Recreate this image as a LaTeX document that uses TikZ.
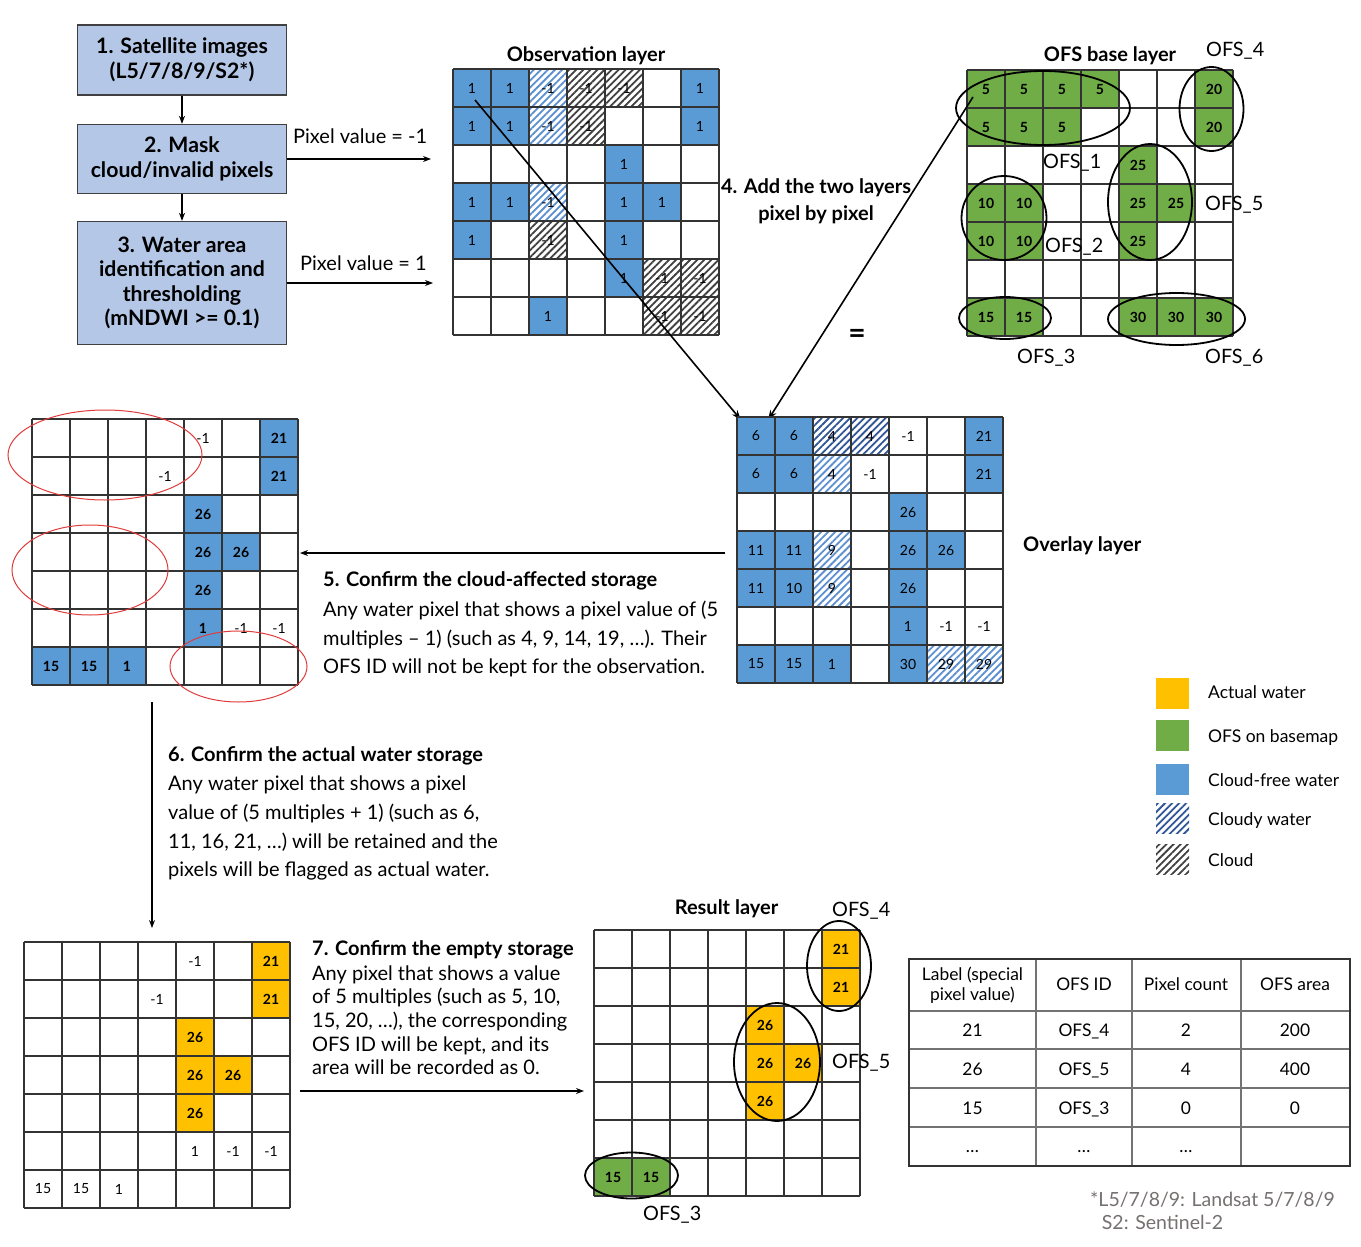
\documentclass[tikz,border=0pt]{standalone}
\usepackage{fontspec}
\setmainfont{Lato}
\usetikzlibrary{arrows.meta,patterns.meta}
\definecolor{cblue}{HTML}{5B9BD5}
\definecolor{cgreen}{HTML}{70AD47}
\definecolor{corange}{HTML}{FFC000}
\definecolor{boxblue}{HTML}{B4C7E7}
\definecolor{hblue}{HTML}{5B8FD0}
\definecolor{hdblue}{HTML}{2F5597}
\definecolor{hgray}{HTML}{404040}
\definecolor{fgray}{HTML}{767171}
\definecolor{ered}{HTML}{E03C3C}
\tikzset{
  gl/.style={draw=black!80, line width=1.2pt},
  bluec/.style={fill=cblue},
  greenc/.style={fill=cgreen},
  orangec/.style={fill=corange},
  bh/.style={pattern={Lines[angle=45,distance=5pt,line width=1.8pt]}, pattern color=hblue},
  bdh/.style={pattern={Lines[angle=45,distance=5pt,line width=1.8pt]}, pattern color=hdblue},
  kh/.style={pattern={Lines[angle=45,distance=5pt,line width=1.8pt]}, pattern color=hgray},
  num/.style={inner sep=0pt, font=\fontsize{14}{16}\selectfont},
  numb/.style={inner sep=0pt, font=\fontsize{14}{16}\selectfont\bfseries},
  txt/.style={anchor=base west, inner sep=0pt, font=\fontsize{20}{24}\selectfont},
  hdr/.style={anchor=base west, inner sep=0pt, font=\fontsize{20}{24}\selectfont\bfseries},
  ttl/.style={anchor=base, inner sep=0pt, font=\fontsize{20}{24}\selectfont\bfseries},
  ofsl/.style={anchor=base west, inner sep=0pt, font=\fontsize{19.8}{24}\selectfont},
  bx/.style={draw=black!75, line width=1.3pt, fill=boxblue, align=center,
    font=\fontsize{21.25}{24.5}\selectfont\bfseries, minimum width=209pt, inner sep=0pt},
  arr/.style={-{Stealth[length=8pt,width=6pt]}, line width=1.2pt},
  darr/.style={-{Stealth[length=10pt,width=7pt]}, line width=1.6pt},
  oell/.style={draw=black, line width=1.8pt},
  rell/.style={draw=ered, line width=1pt},
  legt/.style={anchor=base west, inner sep=0pt, font=\fontsize{17.5}{21}\selectfont},
  tbt/.style={anchor=base, inner sep=0pt, font=\fontsize{17.4}{20}\selectfont},
  tbl/.style={draw=black!55, line width=1.2pt},
  tbo/.style={draw=black!80, line width=1.8pt},
}
\newcommand{\gridlines}{\foreach \i in {0,...,7}{\draw[gl] ({38*\i},0) -- ({38*\i},266); \draw[gl] (0,{38*\i}) -- (266,{38*\i});}}
\begin{document}
\begin{tikzpicture}[x=1pt,y=-1pt]
\useasboundingbox[fill=white] (0,0) rectangle (1361,1247);

% ---------- flow chart ----------
\node[bx, minimum height=70pt] (b1) at (182,60) {1. Satellite images\\(L5/7/8/9/S2*)};
\node[bx, minimum height=69pt] (b2) at (182,159) {2. Mask\\cloud/invalid pixels};
\node[bx, minimum height=123pt] (b3) at (182,283) {3. Water area\\identification and\\thresholding\\(mNDWI >= 0.1)};
\draw[arr] (b1) -- (b2);
\draw[arr] (b2) -- (b3);
\coordinate (m1) at (431,159);
\coordinate (m2) at (433,283);
\draw[arr] (b2.east) -- (m1);
\draw[arr] (b3.east) -- (m2);
\node[txt] (pv1) at (293,143.5) {Pixel value = -1};
\node[txt] (pv2) at (300,270) {Pixel value = 1};

% ---------- observation layer ----------
\node[ttl] (tobs) at (586,61.7) {Observation layer};
\begin{scope}[shift={(453,69)}]
\foreach \c/\r in {0/0,1/0,6/0,0/1,1/1,6/1,4/2,0/3,1/3,4/3,5/3,0/4,4/4,4/5,2/6}
  \fill[bluec] ({38*\c},{38*\r}) rectangle ++(38,38);
\foreach \c/\r in {2/0,2/1,2/3}
  \fill[bh] ({38*\c},{38*\r}) rectangle ++(38,38);
\foreach \c/\r in {3/0,4/0,3/1,2/4,5/5,6/5,5/6,6/6}
  \fill[kh] ({38*\c},{38*\r}) rectangle ++(38,38);
\gridlines
\foreach \c/\r/\t in {0/0/1,1/0/1,6/0/1,0/1/1,1/1/1,6/1/1,4/2/1,0/3/1,1/3/1,4/3/1,5/3/1,0/4/1,4/4/1,4/5/1,2/6/1,
  2/0/-1,2/1/-1,2/3/-1,3/0/-1,4/0/-1,3/1/-1,2/4/-1,5/5/-1,6/5/-1,5/6/-1,6/6/-1}
  \node[num] (obs-\c-\r) at ({38*\c+19},{38*\r+19}) {\t};
\end{scope}

% ---------- OFS base layer ----------
\node[ttl] (tofs) at (1110,61.7) {OFS base layer};
\begin{scope}[shift={(967,70)}]
\foreach \c/\r in {0/0,1/0,2/0,3/0,6/0,0/1,1/1,2/1,6/1,4/2,0/3,1/3,4/3,5/3,0/4,1/4,4/4,0/6,1/6,4/6,5/6,6/6}
  \fill[greenc] ({38*\c},{38*\r}) rectangle ++(38,38);
\gridlines
\foreach \c/\r/\t in {0/0/5,1/0/5,2/0/5,3/0/5,6/0/20,0/1/5,1/1/5,2/1/5,6/1/20,4/2/25,0/3/10,1/3/10,4/3/25,5/3/25,0/4/10,1/4/10,4/4/25,0/6/15,1/6/15,4/6/30,5/6/30,6/6/30}
  \node[numb] (base-\c-\r) at ({38*\c+19},{38*\r+19}) {\t};
\end{scope}
\draw[oell] (1043,108) ellipse [x radius=87, y radius=37];
\draw[oell] (1211.5,109) ellipse [x radius=32, y radius=42];
\draw[oell] (1004,218) ellipse [x radius=42.5, y radius=42];
\draw[oell] (1150,202) ellipse [x radius=42, y radius=58];
\draw[oell] (1005,318) ellipse [x radius=46, y radius=21];
\draw[oell] (1176.5,319) ellipse [x radius=68.5, y radius=26];
\node[ofsl] (o4) at (1206,56.7) {OFS\_4};
\node[ofsl] (o1) at (1043,168.3) {OFS\_1};
\node[ofsl] (o5) at (1205,210) {OFS\_5};
\node[ofsl] (o2) at (1045,252.7) {OFS\_2};
\node[ofsl] (o3) at (1017,363.3) {OFS\_3};
\node[ofsl] (o6) at (1205,363.3) {OFS\_6};

% ---------- step 4 ----------
\node[anchor=base, inner sep=0pt, font=\fontsize{20}{24}\selectfont\bfseries] (s4a) at (816,193.3) {4. Add the two layers};
\node[anchor=base, inner sep=0pt, font=\fontsize{20}{24}\selectfont\bfseries] (s4b) at (816,220) {pixel by pixel};
\node[inner sep=0pt, font=\fontsize{30}{30}\selectfont\bfseries] (eq) at (857,336) {=};
\coordinate (d1s) at (475,100);
\coordinate (d1e) at (741,420);
\coordinate (d2s) at (973,97);
\coordinate (d2e) at (768,420);
\draw[darr] (d1s) -- (d1e);
\draw[darr] (d2s) -- (d2e);

% ---------- overlay layer ----------
\begin{scope}[shift={(737,417)}]
\foreach \c/\r in {0/0,1/0,6/0,0/1,1/1,6/1,4/2,0/3,1/3,4/3,5/3,0/4,1/4,4/4,4/5,0/6,1/6,2/6,4/6}
  \fill[bluec] ({38*\c},{38*\r}) rectangle ++(38,38);
\foreach \c/\r in {2/0,3/0}
  \fill[bdh] ({38*\c},{38*\r}) rectangle ++(38,38);
\foreach \c/\r in {2/1,2/3,2/4,5/6,6/6}
  \fill[bh] ({38*\c},{38*\r}) rectangle ++(38,38);
\gridlines
\foreach \c/\r/\t in {0/0/6,1/0/6,2/0/4,3/0/4,4/0/-1,6/0/21,0/1/6,1/1/6,2/1/4,3/1/-1,6/1/21,4/2/26,0/3/11,1/3/11,2/3/9,4/3/26,5/3/26,0/4/11,1/4/10,2/4/9,4/4/26,4/5/1,5/5/-1,6/5/-1,0/6/15,1/6/15,2/6/1,4/6/30,5/6/29,6/6/29}
  \node[num] (ov-\c-\r) at ({38*\c+19},{38*\r+19}) {\t};
\end{scope}
\node[anchor=base west, inner sep=0pt, font=\fontsize{20}{24}\selectfont\bfseries] (tov) at (1023,551) {Overlay layer};

% ---------- step 5 ----------
\coordinate (a5s) at (725,553);
\coordinate (a5e) at (300,553);
\draw[arr] (a5s) -- (a5e);
\node[hdr] (s5h) at (323,586.7) {5. Confirm the cloud-affected storage};
\node[txt] (s5a) at (323,616.7) {Any water pixel that shows a pixel value of (5};
\node[txt] (s5b) at (323,645) {multiples – 1) (such as 4, 9, 14, 19, …). Their};
\node[txt] (s5c) at (323,673.3) {OFS ID will not be kept for the observation.};

% ---------- left grid ----------
\begin{scope}[shift={(32,419)}]
\foreach \c/\r in {6/0,6/1,4/2,4/3,5/3,4/4,4/5,0/6,1/6,2/6}
  \fill[bluec] ({38*\c},{38*\r}) rectangle ++(38,38);
\gridlines
\foreach \c/\r/\t in {6/0/21,6/1/21,4/2/26,4/3/26,5/3/26,4/4/26,4/5/1,0/6/15,1/6/15,2/6/1}
  \node[numb] (lg-\c-\r) at ({38*\c+19},{38*\r+19}) {\t};
\foreach \c/\r/\t in {4/0/-1,3/1/-1,5/5/-1,6/5/-1}
  \node[num] (lg-\c-\r) at ({38*\c+19},{38*\r+19}) {\t};
\end{scope}
\draw[rell] (105,455) ellipse [x radius=97, y radius=45];
\draw[rell] (90,570) ellipse [x radius=78, y radius=45];
\draw[rell] (238.5,666.5) ellipse [x radius=68.5, y radius=35.5];

% ---------- step 6 ----------
\coordinate (a6s) at (152,702);
\coordinate (a6e) at (152,928);
\draw[arr] (a6s) -- (a6e);
\node[hdr] (s6h) at (168,761.7) {6. Confirm the actual water storage};
\node[txt] (s6a) at (168,790) {Any water pixel that shows a pixel};
\node[txt] (s6b) at (168,819.3) {value of (5 multiples + 1) (such as 6,};
\node[txt] (s6c) at (168,848.3) {11, 16, 21, …) will be retained and the};
\node[txt] (s6d) at (168,876.7) {pixels will be flagged as actual water.};

% ---------- bottom-left grid ----------
\begin{scope}[shift={(24,942)}]
\foreach \c/\r in {6/0,6/1,4/2,4/3,5/3,4/4}
  \fill[orangec] ({38*\c},{38*\r}) rectangle ++(38,38);
\gridlines
\foreach \c/\r/\t in {6/0/21,6/1/21,4/2/26,4/3/26,5/3/26,4/4/26}
  \node[numb] (bg-\c-\r) at ({38*\c+19},{38*\r+19}) {\t};
\foreach \c/\r/\t in {4/0/-1,3/1/-1,4/5/1,5/5/-1,6/5/-1,0/6/15,1/6/15,2/6/1}
  \node[num] (bg-\c-\r) at ({38*\c+19},{38*\r+19}) {\t};
\end{scope}

% ---------- step 7 ----------
\node[hdr] (s7h) at (312,955) {7. Confirm the empty storage};
\node[txt] (s7a) at (312,980) {Any pixel that shows a value};
\node[txt] (s7b) at (312,1003.3) {of 5 multiples (such as 5, 10,};
\node[txt] (s7c) at (312,1027.7) {15, 20, …), the corresponding};
\node[txt] (s7d) at (312,1051) {OFS ID will be kept, and its};
\node[txt] (s7e) at (312,1074.3) {area will be recorded as 0.};
\coordinate (a7s) at (300,1091);
\coordinate (a7e) at (584,1091);
\draw[arr] (a7s) -- (a7e);

% ---------- result layer ----------
\node[ttl] (tres) at (726.5,914) {Result layer};
\begin{scope}[shift={(594,930)}]
\foreach \c/\r in {6/0,6/1,4/2,4/3,5/3,4/4}
  \fill[orangec] ({38*\c},{38*\r}) rectangle ++(38,38);
\foreach \c/\r in {0/6,1/6}
  \fill[greenc] ({38*\c},{38*\r}) rectangle ++(38,38);
\gridlines
\foreach \c/\r/\t in {6/0/21,6/1/21,4/2/26,4/3/26,5/3/26,4/4/26,0/6/15,1/6/15}
  \node[numb] (rs-\c-\r) at ({38*\c+19},{38*\r+19}) {\t};
\end{scope}
\draw[oell] (839,966) ellipse [x radius=32, y radius=45];
\draw[oell] (777,1062) ellipse [x radius=43, y radius=59];
\draw[oell] (631.5,1175.5) ellipse [x radius=46.5, y radius=23];
\node[ofsl] (r4) at (832,916) {OFS\_4};
\node[ofsl] (r5) at (832,1068.3) {OFS\_5};
\node[ofsl] (r3) at (643,1220) {OFS\_3};

% ---------- table ----------
\foreach \y in {1011,1049,1088,1127}
  \draw[tbl] (909,\y) -- (1350,\y);
\foreach \x in {1036,1132,1241}
  \draw[tbl] (\x,959) -- (\x,1166);
\draw[tbo] (909,959) rectangle (1350,1166);
\node[tbt] (th1a) at (972.5,980) {Label (special};
\node[tbt] (th1b) at (972.5,1000) {pixel value)};
\node[tbt] (th2) at (1084,990.7) {OFS ID};
\node[tbt] (th3) at (1186,990.7) {Pixel count};
\node[tbt] (th4) at (1295,990.7) {OFS area};
\node[tbt] (t11) at (972.5,1036) {21};
\node[tbt] (t12) at (1084,1036) {OFS\_4};
\node[tbt] (t13) at (1186,1036) {2};
\node[tbt] (t14) at (1295,1036) {200};
\node[tbt] (t21) at (972.5,1075) {26};
\node[tbt] (t22) at (1084,1075) {OFS\_5};
\node[tbt] (t23) at (1186,1075) {4};
\node[tbt] (t24) at (1295,1075) {400};
\node[tbt] (t31) at (972.5,1114) {15};
\node[tbt] (t32) at (1084,1114) {OFS\_3};
\node[tbt] (t33) at (1186,1114) {0};
\node[tbt] (t34) at (1295,1114) {0};
\node[tbt] (t41) at (972.5,1152.7) {…};
\node[tbt] (t42) at (1084,1152.7) {…};
\node[tbt] (t43) at (1186,1152.7) {…};

% ---------- footnote ----------
\node[anchor=base west, inner sep=0pt, text=fgray, font=\fontsize{19.5}{22}\selectfont] (fn1) at (1090,1206.7) {*L5/7/8/9: Landsat 5/7/8/9};
\node[anchor=base west, inner sep=0pt, text=fgray, font=\fontsize{19.5}{22}\selectfont] (fn2) at (1101.7,1229.3) {S2: Sentinel-2};

% ---------- legend ----------
\fill[orangec] (1156,678) rectangle (1189,709);
\fill[greenc] (1156,720) rectangle (1189,751);
\fill[bluec] (1156,764) rectangle (1189,795);
\fill[bdh] (1156,803) rectangle (1189,833);
\fill[kh] (1156,844) rectangle (1189,874);
\node[legt] (l1) at (1208,698.3) {Actual water};
\node[legt] (l2) at (1208,742.7) {OFS on basemap};
\node[legt] (l3) at (1208,786.7) {Cloud-free water};
\node[legt] (l4) at (1208,825) {Cloudy water};
\node[legt] (l5) at (1208,866) {Cloud};
\end{tikzpicture}
\end{document}
